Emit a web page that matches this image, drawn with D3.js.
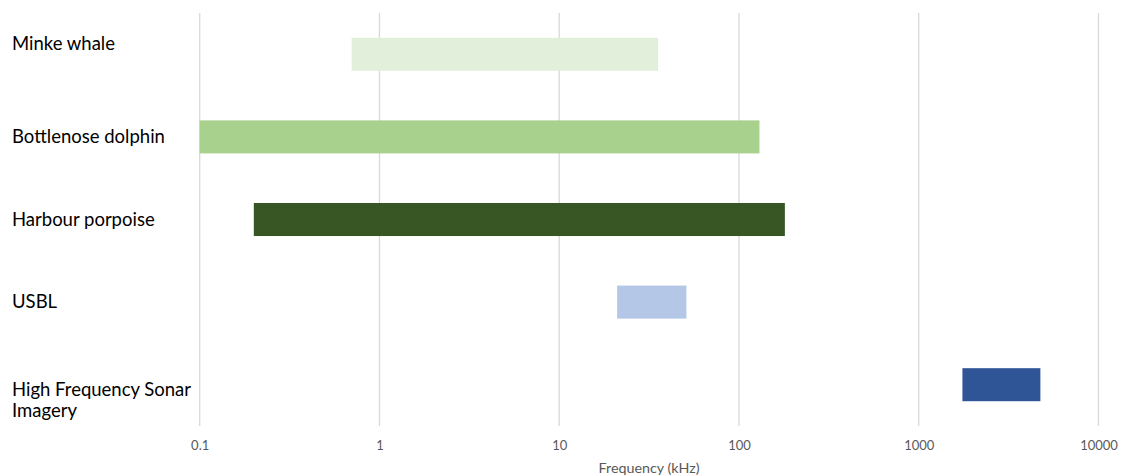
<!DOCTYPE html>
<html>
<head>
<meta charset="utf-8">
<script src="https://cdn.jsdelivr.net/npm/d3@7/dist/d3.min.js"></script>
<style>
  html, body { margin: 0; padding: 0; background: #fff; }
  svg { display: block; }
</style>
</head>
<body>
<svg id="chart" width="1122" height="475"></svg>
<script>
// Frequency ranges (kHz) of marine mammal hearing and survey equipment
const categories = ["Minke whale", "Bottlenose dolphin", "Harbour porpoise", "USBL", "High Frequency Sonar Imagery"];
const lowKHz  = [0.7, 0.1, 0.2, 21, 1750];
const highKHz = [35.5, 130, 180, 51, 4750];
const barColors = ["#e2efda", "#a9d18e", "#375623", "#b4c7e7", "#2f5597"];
const tickValues = [0.1, 1, 10, 100, 1000, 10000];
const tickLabels = ["0.1", "1", "10", "100", "1000", "10000"];
const axisTitle = "Frequency (kHz)";

const rows = categories.map((c, i) => ({ name: c, lo: lowKHz[i], hi: highKHz[i], color: barColors[i] }));

const svg = d3.select("#chart");
const plot = { left: 199.7, right: 1098.5, top: 13, bottom: 426 };

const x = d3.scaleLog()
  .domain([tickValues[0], tickValues[tickValues.length - 1]])
  .range([plot.left, plot.right]);

const y = d3.scaleBand()
  .domain(categories)
  .range([plot.top, plot.bottom])
  .paddingInner(0.6)
  .paddingOuter(0.3);

// vertical gridlines
svg.append("g")
  .selectAll("line")
  .data(tickValues)
  .join("line")
  .attr("x1", d => x(d)).attr("x2", d => x(d))
  .attr("y1", plot.top).attr("y2", plot.bottom)
  .attr("stroke", "#d9d9d9")
  .attr("stroke-width", 1.3);

// floating range bars
svg.append("g")
  .selectAll("rect")
  .data(rows)
  .join("rect")
  .attr("x", d => x(d.lo))
  .attr("width", d => x(d.hi) - x(d.lo))
  .attr("y", d => y(d.name))
  .attr("height", y.bandwidth())
  .attr("fill", d => d.color);

// x axis tick labels
const xAxis = d3.axisBottom(x)
  .tickValues(tickValues)
  .tickFormat((d, i) => tickLabels[i])
  .tickSize(0)
  .tickPadding(0);

const gx = svg.append("g")
  .attr("transform", `translate(0, ${plot.bottom + 24})`)
  .call(xAxis);
gx.select(".domain").remove();
gx.selectAll("text")
  .attr("fill", "#595959")
  .attr("font-family", "Lato, 'Open Sans', sans-serif")
  .attr("font-size", 13)
  .attr("dy", 0);

// axis title
svg.append("text")
  .attr("x", (plot.left + plot.right) / 2)
  .attr("y", 473)
  .attr("text-anchor", "middle")
  .attr("fill", "#595959")
  .attr("font-family", "Lato, 'Open Sans', sans-serif")
  .attr("font-size", 14.3)
  .text(axisTitle);

// category labels, left aligned and wrapped to the label column
const labelFont = "Lato, 'Open Sans', sans-serif";
const labelSize = 18.5;
const lineGap = 21;
const maxLabelWidth = 186;

const labels = svg.append("g")
  .attr("font-family", labelFont)
  .attr("font-size", labelSize)
  .attr("fill", "#000");

rows.forEach((d, i) => {
  const t = labels.append("text").attr("x", 12);
  const words = d.name.split(" ");
  const lines = [];
  let cur = [];
  const probe = t.append("tspan");
  words.forEach(w => {
    const trial = cur.concat(w).join(" ");
    probe.text(trial);
    if (probe.node().getComputedTextLength() > maxLabelWidth && cur.length) {
      lines.push(cur.join(" "));
      cur = [w];
    } else {
      cur.push(w);
    }
  });
  lines.push(cur.join(" "));
  probe.remove();

  const center = y(d.name) + y.bandwidth() / 2;
  // single-line labels sit on the band centre; the top one rides a little high,
  // wrapped labels start just below the centre
  let base = lines.length > 1 ? center + 11 : center + 6;
  if (i === 0) base -= 10;
  lines.forEach((ln, k) => {
    t.append("tspan").attr("x", 12).attr("y", base + k * lineGap).text(ln);
  });
});
</script>
</body>
</html>
